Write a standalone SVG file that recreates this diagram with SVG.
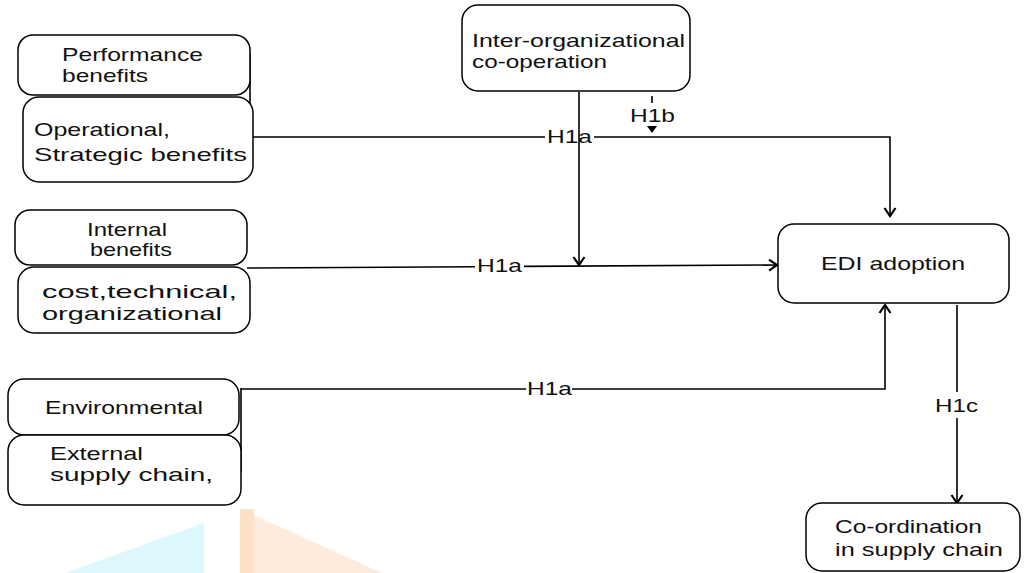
<svg xmlns="http://www.w3.org/2000/svg" width="1026" height="573" viewBox="0 0 1026 573">
  <style>
    .box { fill: #ffffff; stroke: #000000; stroke-width: 1.5; }
    .lbl { font-family: "Liberation Sans", Arial, sans-serif; font-size: 18.5px; fill: #111111; }
    .wire { fill: none; stroke: #000000; stroke-width: 1.6; }
  </style>
  <defs>
    <marker id="arrow" markerUnits="userSpaceOnUse" markerWidth="14" markerHeight="14" viewBox="-10 -7 12 14" refX="0" refY="0" orient="auto">
      <path d="M-8,-5.5 L0,0 L-8,5.5" fill="none" stroke="#000000" stroke-width="2.2"/>
    </marker>
  </defs>

  <!-- faint background marks -->
  <g id="backdrop">
    <polygon points="204,523 204,573 65,573" fill="#dcf8fc"/>
    <polygon points="240,509 240,573 382,573" fill="#feebdc"/>
    <rect x="240" y="509" width="14" height="64" fill="#fde2c8"/>
  </g>

  <!-- connectors -->
  <g id="connectors">
    <!-- performance group to EDI adoption -->
    <polyline class="wire" points="250,54 250,137 545,137"/>
    <polyline class="wire" points="594,137 890,137 890,216" marker-end="url(#arrow)"/>
    <!-- inter-organizational co-operation down to the internal link -->
    <line class="wire" x1="579" y1="92" x2="579" y2="265" marker-end="url(#arrow)"/>
    <!-- H1b stub and pointer -->
    <line class="wire" x1="652" y1="96" x2="652" y2="103"/>
    <polygon points="647,126 657,126 652,133" fill="#000000"/>
    <!-- internal benefits to EDI adoption -->
    <line class="wire" x1="247" y1="268" x2="475" y2="266.7"/>
    <line class="wire" x1="524" y1="266.4" x2="777" y2="265" marker-end="url(#arrow)"/>
    <!-- environmental group to EDI adoption -->
    <line class="wire" x1="241" y1="388" x2="241" y2="472"/>
    <line class="wire" x1="241" y1="389" x2="526" y2="389"/>
    <polyline class="wire" points="572,389 885,389 885,305" marker-end="url(#arrow)"/>
    <!-- EDI adoption to co-ordination -->
    <line class="wire" x1="957" y1="305" x2="957" y2="392"/>
    <line class="wire" x1="957" y1="418" x2="957" y2="503" marker-end="url(#arrow)"/>
    <!-- path labels -->
    <text class="lbl" x="547" y="143" textLength="45" lengthAdjust="spacingAndGlyphs">H1a</text>
    <text class="lbl" x="630" y="122" textLength="45" lengthAdjust="spacingAndGlyphs">H1b</text>
    <text class="lbl" x="477" y="272" textLength="45" lengthAdjust="spacingAndGlyphs">H1a</text>
    <text class="lbl" x="527" y="395" textLength="45" lengthAdjust="spacingAndGlyphs">H1a</text>
    <text class="lbl" x="935" y="412" textLength="43" lengthAdjust="spacingAndGlyphs">H1c</text>
  </g>

  <g id="performance-benefits">
    <rect class="box" x="18" y="35" width="232" height="60" rx="15"/>
    <text class="lbl" x="62" y="61" textLength="141" lengthAdjust="spacingAndGlyphs">Performance</text>
    <text class="lbl" x="62" y="82" textLength="86" lengthAdjust="spacingAndGlyphs">benefits</text>
  </g>

  <g id="operational-strategic">
    <rect class="box" x="23" y="97" width="230" height="85" rx="16"/>
    <text class="lbl" x="34" y="136" textLength="136" lengthAdjust="spacingAndGlyphs">Operational,</text>
    <text class="lbl" x="34" y="161" textLength="213" lengthAdjust="spacingAndGlyphs">Strategic benefits</text>
  </g>

  <g id="internal-benefits">
    <rect class="box" x="15" y="210" width="232" height="55" rx="15"/>
    <text class="lbl" x="87" y="236" textLength="80" lengthAdjust="spacingAndGlyphs">Internal</text>
    <text class="lbl" x="90" y="256" textLength="82" lengthAdjust="spacingAndGlyphs">benefits</text>
  </g>

  <g id="cost-technical">
    <rect class="box" x="18" y="267" width="232" height="66" rx="16"/>
    <text class="lbl" x="42" y="298" textLength="195" lengthAdjust="spacingAndGlyphs">cost,technical,</text>
    <text class="lbl" x="42" y="320" textLength="180" lengthAdjust="spacingAndGlyphs">organizational</text>
  </g>

  <g id="environmental">
    <rect class="box" x="8" y="379" width="231" height="56" rx="16"/>
    <text class="lbl" x="45" y="414" textLength="158" lengthAdjust="spacingAndGlyphs">Environmental</text>
  </g>

  <g id="external-supply-chain">
    <rect class="box" x="8" y="435" width="233" height="70" rx="16"/>
    <text class="lbl" x="50" y="460" textLength="93" lengthAdjust="spacingAndGlyphs">External</text>
    <text class="lbl" x="50" y="481" textLength="163" lengthAdjust="spacingAndGlyphs">supply chain,</text>
  </g>

  <g id="inter-organizational">
    <rect class="box" x="462" y="5" width="228" height="86" rx="16"/>
    <text class="lbl" x="472" y="47" textLength="213" lengthAdjust="spacingAndGlyphs">Inter-organizational</text>
    <text class="lbl" x="472" y="68" textLength="135" lengthAdjust="spacingAndGlyphs">co-operation</text>
  </g>

  <g id="edi-adoption">
    <rect class="box" x="778" y="224" width="231" height="79" rx="16"/>
    <text class="lbl" x="821" y="270" textLength="144" lengthAdjust="spacingAndGlyphs">EDI adoption</text>
  </g>

  <g id="co-ordination">
    <rect class="box" x="806" y="503" width="214" height="68" rx="16"/>
    <text class="lbl" x="835" y="533" textLength="147" lengthAdjust="spacingAndGlyphs">Co-ordination</text>
    <text class="lbl" x="835" y="556" textLength="168" lengthAdjust="spacingAndGlyphs">in supply chain</text>
  </g>
</svg>
